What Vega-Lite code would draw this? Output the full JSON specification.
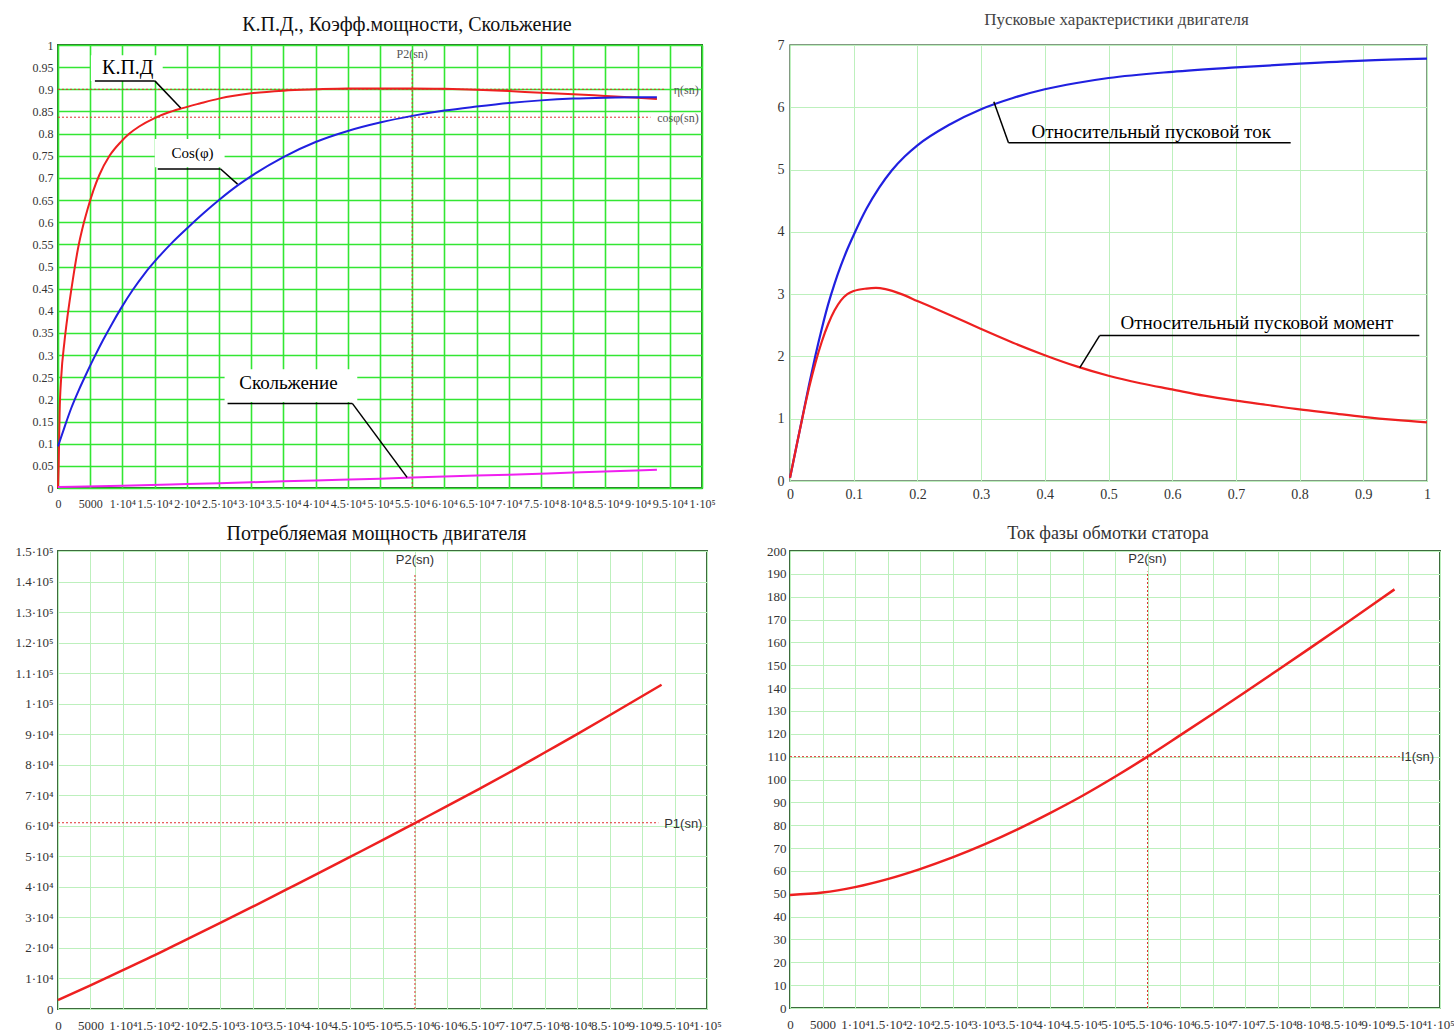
{
  "$schema": "https://vega.github.io/schema/vega-lite/v6.json",
  "background": "white",
  "padding": {"left": 13, "top": 10, "right": 5, "bottom": 5},
  "config": {"font": "Liberation Serif", "view": {"stroke": "#3d6b3d"}},
  "resolve": {"scale": {"color": "independent"}},
  "datasets": {
    "eff": [
      {"x": 0, "y": 0, "k": "eta"}, {"x": 100, "y": 0.05, "k": "eta"}, {"x": 250, "y": 0.17, "k": "eta"}, {"x": 500, "y": 0.25, "k": "eta"},
      {"x": 1000, "y": 0.33, "k": "eta"}, {"x": 1500, "y": 0.39, "k": "eta"}, {"x": 2300, "y": 0.47, "k": "eta"}, {"x": 3100, "y": 0.54, "k": "eta"},
      {"x": 4000, "y": 0.598, "k": "eta"}, {"x": 4600, "y": 0.63, "k": "eta"}, {"x": 5500, "y": 0.672, "k": "eta"}, {"x": 6400, "y": 0.706, "k": "eta"},
      {"x": 8000, "y": 0.75, "k": "eta"}, {"x": 9800, "y": 0.782, "k": "eta"}, {"x": 11000, "y": 0.799, "k": "eta"}, {"x": 12600, "y": 0.816, "k": "eta"},
      {"x": 15000, "y": 0.835, "k": "eta"}, {"x": 17000, "y": 0.847, "k": "eta"}, {"x": 19200, "y": 0.857, "k": "eta"}, {"x": 22000, "y": 0.868, "k": "eta"},
      {"x": 25000, "y": 0.879, "k": "eta"}, {"x": 30000, "y": 0.891, "k": "eta"}, {"x": 35000, "y": 0.897, "k": "eta"}, {"x": 40000, "y": 0.9, "k": "eta"},
      {"x": 45000, "y": 0.902, "k": "eta"}, {"x": 50000, "y": 0.902, "k": "eta"}, {"x": 55000, "y": 0.902, "k": "eta"}, {"x": 60000, "y": 0.901, "k": "eta"},
      {"x": 65000, "y": 0.899, "k": "eta"}, {"x": 70000, "y": 0.896, "k": "eta"}, {"x": 75000, "y": 0.892, "k": "eta"}, {"x": 80000, "y": 0.889, "k": "eta"},
      {"x": 85000, "y": 0.885, "k": "eta"}, {"x": 90000, "y": 0.881, "k": "eta"}, {"x": 93000, "y": 0.878, "k": "eta"},
      {"x": 0, "y": 0.094, "k": "cos"}, {"x": 1000, "y": 0.137, "k": "cos"}, {"x": 2050, "y": 0.18, "k": "cos"}, {"x": 3200, "y": 0.22, "k": "cos"},
      {"x": 4400, "y": 0.258, "k": "cos"}, {"x": 5700, "y": 0.297, "k": "cos"}, {"x": 7000, "y": 0.334, "k": "cos"}, {"x": 8400, "y": 0.371, "k": "cos"},
      {"x": 9800, "y": 0.406, "k": "cos"}, {"x": 11600, "y": 0.447, "k": "cos"}, {"x": 13400, "y": 0.483, "k": "cos"}, {"x": 15600, "y": 0.521, "k": "cos"},
      {"x": 17800, "y": 0.555, "k": "cos"}, {"x": 20100, "y": 0.587, "k": "cos"}, {"x": 22500, "y": 0.619, "k": "cos"}, {"x": 25000, "y": 0.65, "k": "cos"},
      {"x": 27900, "y": 0.683, "k": "cos"}, {"x": 30000, "y": 0.704, "k": "cos"}, {"x": 35000, "y": 0.747, "k": "cos"}, {"x": 40000, "y": 0.781, "k": "cos"},
      {"x": 45000, "y": 0.806, "k": "cos"}, {"x": 50000, "y": 0.825, "k": "cos"}, {"x": 55000, "y": 0.84, "k": "cos"}, {"x": 60000, "y": 0.852, "k": "cos"},
      {"x": 65000, "y": 0.861, "k": "cos"}, {"x": 70000, "y": 0.869, "k": "cos"}, {"x": 75000, "y": 0.875, "k": "cos"}, {"x": 80000, "y": 0.879, "k": "cos"},
      {"x": 85000, "y": 0.881, "k": "cos"}, {"x": 90000, "y": 0.882, "k": "cos"}, {"x": 93000, "y": 0.882, "k": "cos"},
      {"x": 0, "y": 0.002, "k": "slip"}, {"x": 10000, "y": 0.005, "k": "slip"}, {"x": 20000, "y": 0.009, "k": "slip"}, {"x": 30000, "y": 0.013, "k": "slip"},
      {"x": 40000, "y": 0.017, "k": "slip"}, {"x": 50000, "y": 0.021, "k": "slip"}, {"x": 60000, "y": 0.026, "k": "slip"}, {"x": 70000, "y": 0.03, "k": "slip"},
      {"x": 80000, "y": 0.035, "k": "slip"}, {"x": 93000, "y": 0.041, "k": "slip"}
    ],
    "start": [
      {"x": 0, "y": 0.05, "k": "I"}, {"x": 0.01, "y": 0.55, "k": "I"}, {"x": 0.02, "y": 1.05, "k": "I"}, {"x": 0.03, "y": 1.55, "k": "I"},
      {"x": 0.04, "y": 2.02, "k": "I"}, {"x": 0.05, "y": 2.45, "k": "I"}, {"x": 0.06, "y": 2.84, "k": "I"}, {"x": 0.07, "y": 3.17, "k": "I"},
      {"x": 0.08, "y": 3.46, "k": "I"}, {"x": 0.09, "y": 3.72, "k": "I"}, {"x": 0.1, "y": 3.95, "k": "I"}, {"x": 0.12, "y": 4.37, "k": "I"},
      {"x": 0.14, "y": 4.71, "k": "I"}, {"x": 0.16, "y": 4.99, "k": "I"}, {"x": 0.18, "y": 5.21, "k": "I"}, {"x": 0.2, "y": 5.39, "k": "I"},
      {"x": 0.25, "y": 5.72, "k": "I"}, {"x": 0.3, "y": 5.97, "k": "I"}, {"x": 0.35, "y": 6.15, "k": "I"}, {"x": 0.4, "y": 6.29, "k": "I"},
      {"x": 0.45, "y": 6.39, "k": "I"}, {"x": 0.5, "y": 6.47, "k": "I"}, {"x": 0.6, "y": 6.57, "k": "I"}, {"x": 0.7, "y": 6.64, "k": "I"},
      {"x": 0.8, "y": 6.7, "k": "I"}, {"x": 0.9, "y": 6.75, "k": "I"}, {"x": 1.0, "y": 6.78, "k": "I"},
      {"x": 0, "y": 0.05, "k": "M"}, {"x": 0.01, "y": 0.55, "k": "M"}, {"x": 0.02, "y": 1.04, "k": "M"}, {"x": 0.03, "y": 1.5, "k": "M"},
      {"x": 0.04, "y": 1.9, "k": "M"}, {"x": 0.05, "y": 2.24, "k": "M"}, {"x": 0.06, "y": 2.52, "k": "M"}, {"x": 0.07, "y": 2.74, "k": "M"},
      {"x": 0.08, "y": 2.9, "k": "M"}, {"x": 0.09, "y": 3.0, "k": "M"}, {"x": 0.1, "y": 3.05, "k": "M"}, {"x": 0.12, "y": 3.09, "k": "M"},
      {"x": 0.135, "y": 3.1, "k": "M"}, {"x": 0.15, "y": 3.08, "k": "M"}, {"x": 0.175, "y": 3.0, "k": "M"}, {"x": 0.2, "y": 2.89, "k": "M"},
      {"x": 0.25, "y": 2.67, "k": "M"}, {"x": 0.3, "y": 2.44, "k": "M"}, {"x": 0.35, "y": 2.22, "k": "M"}, {"x": 0.4, "y": 2.02, "k": "M"},
      {"x": 0.45, "y": 1.84, "k": "M"}, {"x": 0.5, "y": 1.69, "k": "M"}, {"x": 0.55, "y": 1.57, "k": "M"}, {"x": 0.6, "y": 1.47, "k": "M"},
      {"x": 0.65, "y": 1.37, "k": "M"}, {"x": 0.7, "y": 1.29, "k": "M"}, {"x": 0.75, "y": 1.22, "k": "M"}, {"x": 0.8, "y": 1.15, "k": "M"},
      {"x": 0.85, "y": 1.09, "k": "M"}, {"x": 0.9, "y": 1.03, "k": "M"}, {"x": 0.95, "y": 0.98, "k": "M"}, {"x": 1.0, "y": 0.94, "k": "M"}
    ],
    "p1": [
      {"x": 0, "y": 2900}, {"x": 5000, "y": 7750}, {"x": 10000, "y": 12740}, {"x": 15000, "y": 17700}, {"x": 20000, "y": 23000},
      {"x": 25000, "y": 28200}, {"x": 30000, "y": 33500}, {"x": 35000, "y": 38900}, {"x": 40000, "y": 44300}, {"x": 45000, "y": 49800},
      {"x": 50000, "y": 55300}, {"x": 55000, "y": 60900}, {"x": 60000, "y": 66500}, {"x": 65000, "y": 72200}, {"x": 70000, "y": 78000},
      {"x": 75000, "y": 84000}, {"x": 80000, "y": 90000}, {"x": 85000, "y": 96200}, {"x": 93000, "y": 106200}
    ],
    "i1": [
      {"x": 0, "y": 49.5}, {"x": 5000, "y": 50.5}, {"x": 10000, "y": 52.9}, {"x": 15000, "y": 56.4}, {"x": 20000, "y": 60.8},
      {"x": 25000, "y": 65.9}, {"x": 30000, "y": 71.7}, {"x": 35000, "y": 78.2}, {"x": 40000, "y": 85.3}, {"x": 45000, "y": 92.9},
      {"x": 50000, "y": 101.2}, {"x": 55000, "y": 110}, {"x": 60000, "y": 119.3}, {"x": 65000, "y": 128.7}, {"x": 70000, "y": 138.2},
      {"x": 75000, "y": 147.8}, {"x": 80000, "y": 157.5}, {"x": 85000, "y": 167.3}, {"x": 90000, "y": 177.2}, {"x": 93000, "y": 183.2}
    ]
  },
  "concat": [
    {
      "width": 644,
      "height": 443,
      "title": {"text": "К.П.Д., Коэфф.мощности, Скольжение", "font": "Liberation Serif", "fontSize": 20, "fontWeight": "normal", "color": "#111111", "baseline": "alphabetic", "offset": -12, "dx": 27},
      "view": {"stroke": "#2d6a2d", "strokeWidth": 2},
      "encoding": {
        "x": {"field": "x", "type": "quantitative", "scale": {"domain": [0, 100000], "nice": false, "zero": false},
          "axis": {"title": null, "values": [0, 5000, 10000, 15000, 20000, 25000, 30000, 35000, 40000, 45000, 50000, 55000, 60000, 65000, 70000, 75000, 80000, 85000, 90000, 95000, 100000],
            "labelExpr": "datum.value == 0 ? '0' : datum.value == 5000 ? '5000' : datum.value < 100000 ? (datum.value / 10000) + '·10⁴' : (datum.value / 100000) + '·10⁵'",
            "grid": true, "gridColor": "#33e633", "gridWidth": 1.6, "ticks": false, "domain": false,
            "labelFont": "Liberation Serif", "labelFontSize": 12, "labelColor": "#333333", "labelPadding": 10, "labelOverlap": false, "labelFlush": false, "labelBound": false}},
        "y": {"field": "y", "type": "quantitative", "scale": {"domain": [0, 1], "nice": false},
          "axis": {"title": null, "values": [0, 0.05, 0.1, 0.15, 0.2, 0.25, 0.3, 0.35, 0.4, 0.45, 0.5, 0.55, 0.6, 0.65, 0.7, 0.75, 0.8, 0.85, 0.9, 0.95, 1], "format": ".2~f",
            "grid": true, "gridColor": "#33e633", "gridWidth": 1.6, "ticks": false, "domain": false,
            "labelFont": "Liberation Serif", "labelFontSize": 12, "labelColor": "#333333", "labelPadding": 5, "labelOverlap": false, "labelFlush": false}}
      },
      "layer": [
        {
          "data": {"values": [
            {"x": 5110, "x2": 16260, "y": 0.977, "y2": 0.919},
            {"x": 15030, "x2": 25870, "y": 0.788, "y2": 0.724},
            {"x": 25870, "x2": 46470, "y": 0.268, "y2": 0.194}
          ]},
          "mark": {"type": "rect", "fill": "white"},
          "encoding": {"x2": {"field": "x2"}, "y2": {"field": "y2"}}
        },
        {
          "data": {"values": [
            {"x": 55000, "x2": 55000, "y": 0, "y2": 0.962},
            {"x": 0, "x2": 94200, "y": 0.9, "y2": 0.9},
            {"x": 0, "x2": 92000, "y": 0.837, "y2": 0.837}
          ]},
          "mark": {"type": "rule", "color": "#e03030", "strokeWidth": 1, "strokeDash": [2, 2]},
          "encoding": {"x2": {"field": "x2"}, "y2": {"field": "y2"}}
        },
        {
          "data": {"name": "eff"},
          "mark": {"type": "line", "strokeWidth": 2, "interpolate": "monotone"},
          "encoding": {"color": {"field": "k", "type": "nominal", "scale": {"domain": ["eta", "cos", "slip"], "range": ["#ee2020", "#2020e0", "#f020f0"]}, "legend": null}}
        },
        {
          "data": {"values": [
            {"x": 5730, "x2": 15030, "y": 0.919, "y2": 0.919},
            {"x": 15030, "x2": 19050, "y": 0.919, "y2": 0.858},
            {"x": 15490, "x2": 25250, "y": 0.72, "y2": 0.72},
            {"x": 25250, "x2": 27880, "y": 0.72, "y2": 0.686},
            {"x": 26330, "x2": 45700, "y": 0.191, "y2": 0.191},
            {"x": 45700, "x2": 54210, "y": 0.191, "y2": 0.024}
          ]},
          "mark": {"type": "rule", "color": "black", "strokeWidth": 1.5},
          "encoding": {"x2": {"field": "x2"}, "y2": {"field": "y2"}}
        },
        {
          "data": {"values": [{"x": 10840, "y": 0.948, "t": "К.П.Д"}]},
          "mark": {"type": "text", "font": "Liberation Serif", "fontSize": 20, "color": "black", "baseline": "middle"},
          "encoding": {"text": {"field": "t"}}
        },
        {
          "data": {"values": [{"x": 20900, "y": 0.756, "t": "Cos(φ)"}]},
          "mark": {"type": "text", "font": "Liberation Serif", "fontSize": 15, "color": "black", "baseline": "middle"},
          "encoding": {"text": {"field": "t"}}
        },
        {
          "data": {"values": [{"x": 35780, "y": 0.236, "t": "Скольжение"}]},
          "mark": {"type": "text", "font": "Liberation Serif", "fontSize": 19, "color": "black", "baseline": "middle"},
          "encoding": {"text": {"field": "t"}}
        },
        {
          "data": {"values": [{"x": 55000, "y": 0.98, "t": "P2(sn)"}]},
          "mark": {"type": "text", "font": "Liberation Serif", "fontSize": 12, "color": "#555555", "baseline": "middle"},
          "encoding": {"text": {"field": "t"}}
        },
        {
          "data": {"values": [{"x": 99500, "y": 0.899, "t": "η(sn)"}, {"x": 99500, "y": 0.836, "t": "cosφ(sn)"}]},
          "mark": {"type": "text", "font": "Liberation Serif", "fontSize": 12, "color": "#555555", "baseline": "middle", "align": "right"},
          "encoding": {"text": {"field": "t"}}
        }
      ]
    },
    {
      "width": 637,
      "height": 436,
      "title": {"text": "Пусковые характеристики двигателя", "font": "Liberation Serif", "fontSize": 17, "fontWeight": "normal", "color": "#444444", "baseline": "alphabetic", "offset": -4, "dx": 8},
      "view": {"stroke": "#5a7a5a", "strokeWidth": 1.5},
      "encoding": {
        "x": {"field": "x", "type": "quantitative", "scale": {"domain": [0, 1], "nice": false},
          "axis": {"title": null, "values": [0, 0.1, 0.2, 0.3, 0.4, 0.5, 0.6, 0.7, 0.8, 0.9, 1], "format": ".1~f",
            "grid": true, "gridColor": "#bdf0bd", "gridWidth": 1, "ticks": false, "domain": false,
            "labelFont": "Liberation Serif", "labelFontSize": 14, "labelColor": "#333333", "labelPadding": 6, "labelFlush": false, "labelOverlap": false}},
        "y": {"field": "y", "type": "quantitative", "scale": {"domain": [0, 7], "nice": false},
          "axis": {"title": null, "values": [0, 1, 2, 3, 4, 5, 6, 7],
            "grid": true, "gridColor": "#bdf0bd", "gridWidth": 1, "ticks": false, "domain": false,
            "labelFont": "Liberation Serif", "labelFontSize": 14, "labelColor": "#333333", "labelPadding": 6, "labelFlush": false}}
      },
      "layer": [
        {
          "data": {"name": "start"},
          "mark": {"type": "line", "strokeWidth": 2.2, "interpolate": "monotone"},
          "encoding": {"color": {"field": "k", "type": "nominal", "scale": {"domain": ["I", "M"], "range": ["#2020e0", "#ee2020"]}, "legend": null}}
        },
        {
          "data": {"values": [
            {"x": 0.343, "x2": 0.786, "y": 5.43, "y2": 5.43},
            {"x": 0.343, "x2": 0.32, "y": 5.43, "y2": 6.09},
            {"x": 0.486, "x2": 0.988, "y": 2.335, "y2": 2.335},
            {"x": 0.486, "x2": 0.455, "y": 2.335, "y2": 1.82}
          ]},
          "mark": {"type": "rule", "color": "black", "strokeWidth": 1.5},
          "encoding": {"x2": {"field": "x2"}, "y2": {"field": "y2"}}
        },
        {
          "data": {"values": [
            {"x": 0.567, "y": 5.61, "t": "Относительный пусковой ток"},
            {"x": 0.733, "y": 2.53, "t": "Относительный пусковой момент"}
          ]},
          "mark": {"type": "text", "font": "Liberation Serif", "fontSize": 19, "color": "black", "baseline": "middle"},
          "encoding": {"text": {"field": "t"}}
        }
      ]
    },
    {
      "width": 649,
      "height": 458,
      "title": {"text": "Потребляемая мощность двигателя", "font": "Liberation Serif", "fontSize": 20, "fontWeight": "normal", "color": "#111111", "baseline": "alphabetic", "offset": -15, "dx": -6},
      "view": {"stroke": "#3d6b3d", "strokeWidth": 2},
      "encoding": {
        "x": {"field": "x", "type": "quantitative", "scale": {"domain": [0, 100000], "nice": false, "zero": false},
          "axis": {"title": null, "values": [0, 5000, 10000, 15000, 20000, 25000, 30000, 35000, 40000, 45000, 50000, 55000, 60000, 65000, 70000, 75000, 80000, 85000, 90000, 95000, 100000],
            "labelExpr": "datum.value == 0 ? '0' : datum.value == 5000 ? '5000' : datum.value < 100000 ? (datum.value / 10000) + '·10⁴' : (datum.value / 100000) + '·10⁵'",
            "grid": true, "gridColor": "#bdf0bd", "gridWidth": 1, "ticks": false, "domain": false,
            "labelFont": "Liberation Serif", "labelFontSize": 13, "labelColor": "#333333", "labelPadding": 10, "labelOverlap": false, "labelFlush": false, "labelBound": false}},
        "y": {"field": "y", "type": "quantitative", "scale": {"domain": [0, 150000], "nice": false},
          "axis": {"title": null, "values": [0, 10000, 20000, 30000, 40000, 50000, 60000, 70000, 80000, 90000, 100000, 110000, 120000, 130000, 140000, 150000],
            "labelExpr": "datum.value == 0 ? '0' : datum.value < 100000 ? (datum.value / 10000) + '·10⁴' : (datum.value / 100000) + '·10⁵'",
            "grid": true, "gridColor": "#bdf0bd", "gridWidth": 1, "ticks": false, "domain": false,
            "labelFont": "Liberation Serif", "labelFontSize": 13, "labelColor": "#333333", "labelPadding": 5, "labelOverlap": false, "labelFlush": false}}
      },
      "layer": [
        {
          "data": {"values": [
            {"x": 55000, "x2": 55000, "y": 0, "y2": 142800},
            {"x": 0, "x2": 92500, "y": 61000, "y2": 61000}
          ]},
          "mark": {"type": "rule", "color": "#e03030", "strokeWidth": 1, "strokeDash": [2, 2]},
          "encoding": {"x2": {"field": "x2"}, "y2": {"field": "y2"}}
        },
        {
          "data": {"name": "p1"},
          "mark": {"type": "line", "strokeWidth": 2.5, "color": "#ee2020", "interpolate": "monotone"}
        },
        {
          "data": {"values": [{"x": 55000, "y": 146900, "t": "P2(sn)"}]},
          "mark": {"type": "text", "font": "Liberation Sans", "fontSize": 13, "color": "#333333", "baseline": "middle"},
          "encoding": {"text": {"field": "t"}}
        },
        {
          "data": {"values": [{"x": 99300, "y": 60700, "t": "P1(sn)"}]},
          "mark": {"type": "text", "font": "Liberation Sans", "fontSize": 13, "color": "#333333", "baseline": "middle", "align": "right"},
          "encoding": {"text": {"field": "t"}}
        }
      ]
    },
    {
      "width": 650,
      "height": 457,
      "title": {"text": "Ток фазы обмотки статора", "font": "Liberation Serif", "fontSize": 18, "fontWeight": "normal", "color": "#333333", "baseline": "alphabetic", "offset": -12, "dx": -7},
      "view": {"stroke": "#3d6b3d", "strokeWidth": 2},
      "encoding": {
        "x": {"field": "x", "type": "quantitative", "scale": {"domain": [0, 100000], "nice": false, "zero": false},
          "axis": {"title": null, "values": [0, 5000, 10000, 15000, 20000, 25000, 30000, 35000, 40000, 45000, 50000, 55000, 60000, 65000, 70000, 75000, 80000, 85000, 90000, 95000, 100000],
            "labelExpr": "datum.value == 0 ? '0' : datum.value == 5000 ? '5000' : datum.value < 100000 ? (datum.value / 10000) + '·10⁴' : (datum.value / 100000) + '·10⁵'",
            "grid": true, "gridColor": "#bdf0bd", "gridWidth": 1, "ticks": false, "domain": false,
            "labelFont": "Liberation Serif", "labelFontSize": 13, "labelColor": "#333333", "labelPadding": 10, "labelOverlap": false, "labelFlush": false, "labelBound": false}},
        "y": {"field": "y", "type": "quantitative", "scale": {"domain": [0, 200], "nice": false},
          "axis": {"title": null, "values": [0, 10, 20, 30, 40, 50, 60, 70, 80, 90, 100, 110, 120, 130, 140, 150, 160, 170, 180, 190, 200],
            "grid": true, "gridColor": "#bdf0bd", "gridWidth": 1, "ticks": false, "domain": false,
            "labelFont": "Liberation Serif", "labelFontSize": 13, "labelColor": "#333333", "labelPadding": 4, "labelOverlap": false, "labelFlush": false}}
      },
      "layer": [
        {
          "data": {"values": [
            {"x": 55000, "x2": 55000, "y": 0, "y2": 191},
            {"x": 0, "x2": 93900, "y": 110, "y2": 110}
          ]},
          "mark": {"type": "rule", "color": "#e03030", "strokeWidth": 1, "strokeDash": [2, 2]},
          "encoding": {"x2": {"field": "x2"}, "y2": {"field": "y2"}}
        },
        {
          "data": {"name": "i1"},
          "mark": {"type": "line", "strokeWidth": 2.5, "color": "#ee2020", "interpolate": "monotone"}
        },
        {
          "data": {"values": [{"x": 55000, "y": 196.5, "t": "P2(sn)"}]},
          "mark": {"type": "text", "font": "Liberation Sans", "fontSize": 13, "color": "#333333", "baseline": "middle"},
          "encoding": {"text": {"field": "t"}}
        },
        {
          "data": {"values": [{"x": 99100, "y": 110, "t": "I1(sn)"}]},
          "mark": {"type": "text", "font": "Liberation Sans", "fontSize": 13, "color": "#333333", "baseline": "middle", "align": "right"},
          "encoding": {"text": {"field": "t"}}
        }
      ]
    }
  ],
  "columns": 2,
  "bounds": "flush",
  "align": {"row": "each", "column": "each"},
  "spacing": {"row": 63, "column": 83}
}
